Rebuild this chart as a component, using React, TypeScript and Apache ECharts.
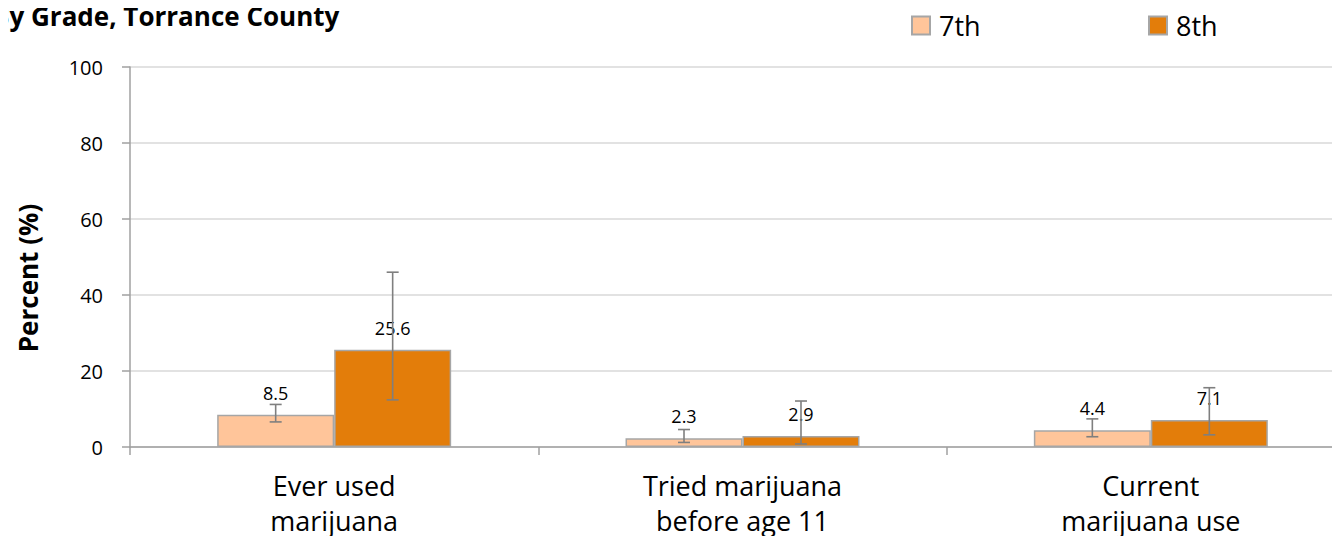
import React, { useEffect, useRef } from "react";
import * as echarts from "echarts";

const categories = ["Ever used\nmarijuana", "Tried marijuana\nbefore age 11", "Current\nmarijuana use"];
const seriesNames = ["7th", "8th"];
const values7 = [8.5, 2.3, 4.4];
const values8 = [25.6, 2.9, 7.1];
const errLow7 = [6.6, 1.2, 2.7];
const errHigh7 = [11.2, 4.6, 7.4];
const errLow8 = [12.4, 0.8, 3.2];
const errHigh8 = [46.0, 12.1, 15.6];
const yTicks = { min: 0, max: 100, interval: 20 };

const FONT = "'Open Sans', 'Noto Sans', sans-serif";
const C7 = "#FFC59A";
const C8 = "#E37D0A";
const BORDER = "#A6A6A6";
const BAR_FRAC = 0.2865;

function errorSeries(name: string, low: number[], high: number[], offsetSign: number) {
  return {
    type: "custom",
    name: name + " error",
    z: 10,
    silent: true,
    data: low.map((l, i) => [i, l, high[i]]),
    renderItem: (params: any, api: any) => {
      const idx = api.value(0);
      const band = api.size([1, 0])[0];
      const lo = api.coord([idx, api.value(1)]);
      const hi = api.coord([idx, api.value(2)]);
      const x = lo[0] + offsetSign * band * BAR_FRAC / 2;
      const cap = 6;
      const style = { stroke: "#7F7F7F", lineWidth: 1.6 };
      return {
        type: "group",
        children: [
          { type: "line", shape: { x1: x, y1: lo[1], x2: x, y2: hi[1] }, style },
          { type: "line", shape: { x1: x - cap, y1: lo[1], x2: x + cap, y2: lo[1] }, style },
          { type: "line", shape: { x1: x - cap, y1: hi[1], x2: x + cap, y2: hi[1] }, style },
        ],
      };
    },
  };
}

export default function App() {
  const ref = useRef<HTMLDivElement>(null);
  useEffect(() => {
    if (!ref.current) return;
    const chart = echarts.init(ref.current, null, { renderer: "svg" });
    const labelCfg = {
      show: true,
      position: "top",
      distance: 13,
      color: "#000",
      fontFamily: FONT,
      fontSize: 18,
    };
    const legendBase = {
      top: 12,
      padding: 0,
      icon: "rect",
      itemWidth: 18,
      itemHeight: 18,
      itemGap: 0,
      textStyle: { fontFamily: FONT, fontSize: 27, color: "#000", padding: [0, 0, 0, 4] },
    };
    chart.setOption({
      animation: false,
      backgroundColor: "#fff",
      grid: { left: 130, right: 1, top: 67, bottom: 97, containLabel: false },
      legend: [
        { ...legendBase, left: 911, data: [seriesNames[0]] },
        { ...legendBase, left: 1148, data: [seriesNames[1]] },
      ],
      graphic: [
        {
          type: "text",
          x: -8,
          y: 3,
          style: {
            text: "By Grade, Torrance County",
            font: `bold 26px ${FONT}`,
            fill: "#000",
            verticalAlign: "top",
          },
        },
        {
          type: "text",
          x: 28,
          y: 278,
          rotation: Math.PI / 2,
          style: {
            text: "Percent (%)",
            font: `bold 26px ${FONT}`,
            fill: "#000",
            align: "center",
            verticalAlign: "middle",
          },
        },
      ],
      xAxis: {
        type: "category",
        data: categories,
        axisLine: { lineStyle: { color: "#A0A0A0", width: 1.5 } },
        axisTick: { show: true, length: 8, lineStyle: { color: "#A0A0A0", width: 1.5 } },
        axisLabel: {
          fontFamily: FONT,
          fontSize: 27,
          color: "#000",
          lineHeight: 35,
          margin: 21,
        },
      },
      yAxis: {
        type: "value",
        min: yTicks.min,
        max: yTicks.max,
        interval: yTicks.interval,
        axisLine: { show: true, lineStyle: { color: "#A0A0A0", width: 1.5 } },
        axisTick: { show: true, length: 8, lineStyle: { color: "#A0A0A0", width: 1.5 } },
        splitLine: { lineStyle: { color: "#D9D9D9", width: 1.5 } },
        axisLabel: { fontFamily: FONT, fontSize: 20, color: "#000", margin: 27 },
      },
      series: [
        {
          type: "bar",
          name: seriesNames[0],
          data: values7,
          barGap: "0%",
          barCategoryGap: "42.7%",
          itemStyle: { color: C7, borderColor: BORDER, borderWidth: 1.5 },
          label: labelCfg,
        },
        {
          type: "bar",
          name: seriesNames[1],
          data: values8,
          barGap: "0%",
          barCategoryGap: "42.7%",
          itemStyle: { color: C8, borderColor: BORDER, borderWidth: 1.5 },
          label: labelCfg,
        },
        errorSeries(seriesNames[0], errLow7, errHigh7, -1),
        errorSeries(seriesNames[1], errLow8, errHigh8, 1),
      ],
    });
    return () => chart.dispose();
  }, []);
  return (
    <div style={{ width: 1340, height: 544, margin: -8, overflow: "hidden", position: "relative" }}>
      <div ref={ref} style={{ width: 1356, height: 544 }} />
    </div>
  );
}
